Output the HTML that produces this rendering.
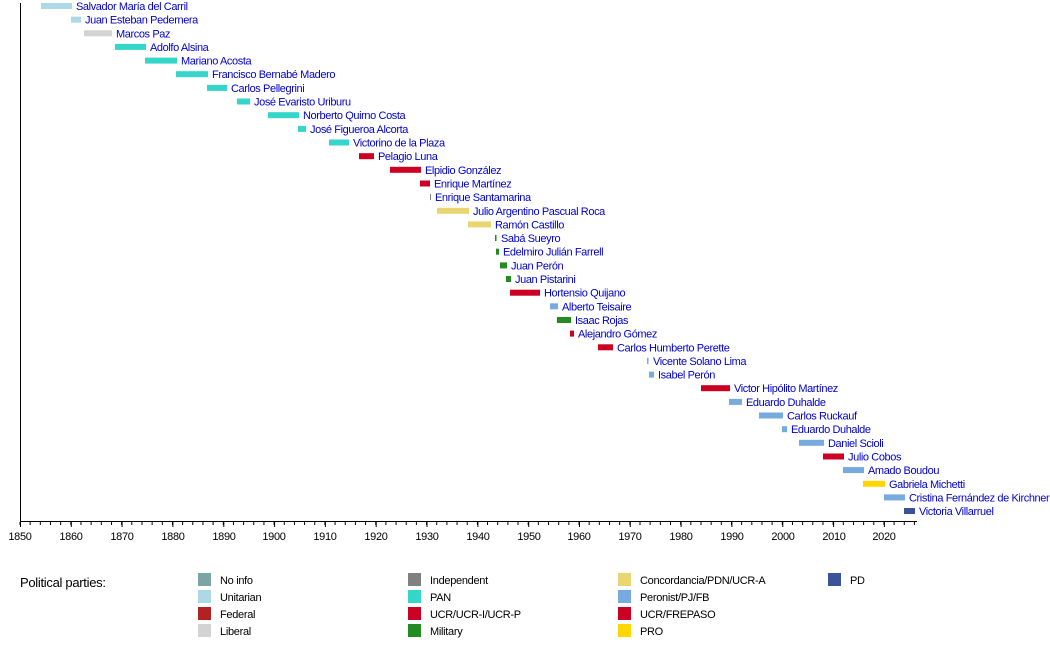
<!DOCTYPE html>
<html><head><meta charset="utf-8"><style>
html,body{margin:0;padding:0;background:#fff;width:1050px;height:671px;overflow:hidden}
svg{display:block;font-family:"Liberation Sans",sans-serif}
.n{font-size:11px;fill:#0000cc;letter-spacing:-0.4px}
.t{font-size:11px;fill:#000;text-anchor:middle;letter-spacing:-0.3px}
.l{font-size:11px;fill:#000;letter-spacing:-0.3px}
</style></head><body>
<svg width="1050" height="671" viewBox="0 0 1050 671">
<defs>
<pattern id="mt" x="19.5" y="0" width="10.164" height="10" patternUnits="userSpaceOnUse">
<rect x="0" y="0" width="1" height="10" fill="#000"/>
</pattern>
</defs>
<line x1="20.5" y1="3" x2="20.5" y2="522" stroke="#000" stroke-width="1"/>
<line x1="20" y1="521.5" x2="917" y2="521.5" stroke="#000" stroke-width="1"/>
<rect x="19.5" y="522" width="898" height="3" fill="url(#mt)"/>
<g stroke="#000" stroke-width="1">
<line x1="20.5" y1="522" x2="20.5" y2="527"/><line x1="71.3" y1="522" x2="71.3" y2="527"/><line x1="122.1" y1="522" x2="122.1" y2="527"/><line x1="172.9" y1="522" x2="172.9" y2="527"/><line x1="223.8" y1="522" x2="223.8" y2="527"/><line x1="274.6" y1="522" x2="274.6" y2="527"/><line x1="325.4" y1="522" x2="325.4" y2="527"/><line x1="376.2" y1="522" x2="376.2" y2="527"/><line x1="427" y1="522" x2="427" y2="527"/><line x1="477.9" y1="522" x2="477.9" y2="527"/><line x1="528.7" y1="522" x2="528.7" y2="527"/><line x1="579.5" y1="522" x2="579.5" y2="527"/><line x1="630.3" y1="522" x2="630.3" y2="527"/><line x1="681.1" y1="522" x2="681.1" y2="527"/><line x1="731.9" y1="522" x2="731.9" y2="527"/><line x1="782.8" y1="522" x2="782.8" y2="527"/><line x1="833.6" y1="522" x2="833.6" y2="527"/><line x1="884.4" y1="522" x2="884.4" y2="527"/>
</g>
<g class="t">
<text class="t" x="20" y="540">1850</text><text class="t" x="71" y="540">1860</text><text class="t" x="122" y="540">1870</text><text class="t" x="173" y="540">1880</text><text class="t" x="224" y="540">1890</text><text class="t" x="274" y="540">1900</text><text class="t" x="325" y="540">1910</text><text class="t" x="376" y="540">1920</text><text class="t" x="427" y="540">1930</text><text class="t" x="478" y="540">1940</text><text class="t" x="529" y="540">1950</text><text class="t" x="579" y="540">1960</text><text class="t" x="630" y="540">1970</text><text class="t" x="681" y="540">1980</text><text class="t" x="732" y="540">1990</text><text class="t" x="783" y="540">2000</text><text class="t" x="834" y="540">2010</text><text class="t" x="884" y="540">2020</text>
</g>
<rect x="41" y="3" width="31" height="6" fill="#add8e6"/><text class="n" x="76" y="10">Salvador María del Carril</text>
<rect x="71" y="16.6" width="10" height="6" fill="#add8e6"/><text class="n" x="85" y="23.6">Juan Esteban Pedernera</text>
<rect x="84" y="30.3" width="28" height="6" fill="#d3d3d3"/><text class="n" x="116" y="37.3">Marcos Paz</text>
<rect x="115" y="43.9" width="31" height="6" fill="#33d6c8"/><text class="n" x="150" y="50.9">Adolfo Alsina</text>
<rect x="145" y="57.6" width="32" height="6" fill="#33d6c8"/><text class="n" x="181" y="64.6">Mariano Acosta</text>
<rect x="176" y="71.2" width="32" height="6" fill="#33d6c8"/><text class="n" x="212" y="78.2">Francisco Bernabé Madero</text>
<rect x="207" y="84.9" width="20" height="6" fill="#33d6c8"/><text class="n" x="231" y="91.9">Carlos Pellegrini</text>
<rect x="237" y="98.5" width="13" height="6" fill="#33d6c8"/><text class="n" x="254" y="105.5">José Evaristo Uriburu</text>
<rect x="268" y="112.2" width="31" height="6" fill="#33d6c8"/><text class="n" x="303" y="119.2">Norberto Quirno Costa</text>
<rect x="298" y="125.9" width="8" height="6" fill="#33d6c8"/><text class="n" x="310" y="132.9">José Figueroa Alcorta</text>
<rect x="329" y="139.5" width="20" height="6" fill="#33d6c8"/><text class="n" x="353" y="146.5">Victorino de la Plaza</text>
<rect x="359" y="153.2" width="15" height="6" fill="#cc0022"/><text class="n" x="378" y="160.2">Pelagio Luna</text>
<rect x="390" y="166.8" width="31" height="6" fill="#cc0022"/><text class="n" x="425" y="173.8">Elpidio González</text>
<rect x="420" y="180.5" width="10" height="6" fill="#cc0022"/><text class="n" x="434" y="187.5">Enrique Martínez</text>
<rect x="430" y="194.1" width="1" height="6" fill="#808080"/><text class="n" x="435" y="201.1">Enrique Santamarina</text>
<rect x="437" y="207.8" width="32" height="6" fill="#e8d770"/><text class="n" x="473" y="214.8">Julio Argentino Pascual Roca</text>
<rect x="468" y="221.4" width="23" height="6" fill="#e8d770"/><text class="n" x="495" y="228.4">Ramón Castillo</text>
<rect x="495" y="235" width="1.5" height="6" fill="#228b22"/><text class="n" x="501" y="242">Sabá Sueyro</text>
<rect x="496" y="248.7" width="3" height="6" fill="#228b22"/><text class="n" x="503" y="255.7">Edelmiro Julián Farrell</text>
<rect x="500" y="262.4" width="7" height="6" fill="#228b22"/><text class="n" x="511" y="269.4">Juan Perón</text>
<rect x="506" y="276" width="5" height="6" fill="#228b22"/><text class="n" x="515" y="283">Juan Pistarini</text>
<rect x="510" y="289.7" width="30" height="6" fill="#cc0022"/><text class="n" x="544" y="296.7">Hortensio Quijano</text>
<rect x="550" y="303.3" width="8" height="6" fill="#77aadd"/><text class="n" x="562" y="310.3">Alberto Teisaire</text>
<rect x="557" y="317" width="14" height="6" fill="#228b22"/><text class="n" x="575" y="324">Isaac Rojas</text>
<rect x="570" y="330.6" width="4" height="6" fill="#cc0022"/><text class="n" x="578" y="337.6">Alejandro Gómez</text>
<rect x="598" y="344.3" width="15" height="6" fill="#cc0022"/><text class="n" x="617" y="351.3">Carlos Humberto Perette</text>
<rect x="647" y="357.9" width="1.5" height="6" fill="#77aadd"/><text class="n" x="653" y="364.9">Vicente Solano Lima</text>
<rect x="649" y="371.6" width="5" height="6" fill="#77aadd"/><text class="n" x="658" y="378.6">Isabel Perón</text>
<rect x="701" y="385.2" width="29" height="6" fill="#cc0022"/><text class="n" x="734" y="392.2">Victor Hipólito Martínez</text>
<rect x="729" y="398.9" width="13" height="6" fill="#77aadd"/><text class="n" x="746" y="405.9">Eduardo Duhalde</text>
<rect x="759" y="412.5" width="24" height="6" fill="#77aadd"/><text class="n" x="787" y="419.5">Carlos Ruckauf</text>
<rect x="782" y="426.2" width="5" height="6" fill="#77aadd"/><text class="n" x="791" y="433.2">Eduardo Duhalde</text>
<rect x="799" y="439.8" width="25" height="6" fill="#77aadd"/><text class="n" x="828" y="446.8">Daniel Scioli</text>
<rect x="823" y="453.5" width="21" height="6" fill="#cc0022"/><text class="n" x="848" y="460.5">Julio Cobos</text>
<rect x="843" y="467.1" width="21" height="6" fill="#77aadd"/><text class="n" x="868" y="474.1">Amado Boudou</text>
<rect x="863" y="480.8" width="22" height="6" fill="#ffd700"/><text class="n" x="889" y="487.8">Gabriela Michetti</text>
<rect x="884" y="494.4" width="21" height="6" fill="#77aadd"/><text class="n" x="909" y="501.4">Cristina Fernández de Kirchner</text>
<rect x="904" y="508" width="11" height="6" fill="#3a539b"/><text class="n" x="919" y="515">Victoria Villarruel</text>
<text x="20" y="587" style="font-size:13px;fill:#000;letter-spacing:-0.3px">Political parties:</text>
<rect x="198" y="573" width="13" height="13" fill="#7ba5a5"/><text class="l" x="220" y="584">No info</text>
<rect x="198" y="590" width="13" height="13" fill="#add8e6"/><text class="l" x="220" y="601">Unitarian</text>
<rect x="198" y="607" width="13" height="13" fill="#b22222"/><text class="l" x="220" y="618">Federal</text>
<rect x="198" y="624" width="13" height="13" fill="#d3d3d3"/><text class="l" x="220" y="635">Liberal</text>
<rect x="408" y="573" width="13" height="13" fill="#808080"/><text class="l" x="430" y="584">Independent</text>
<rect x="408" y="590" width="13" height="13" fill="#33d6c8"/><text class="l" x="430" y="601">PAN</text>
<rect x="408" y="607" width="13" height="13" fill="#cc0022"/><text class="l" x="430" y="618">UCR/UCR-I/UCR-P</text>
<rect x="408" y="624" width="13" height="13" fill="#228b22"/><text class="l" x="430" y="635">Military</text>
<rect x="618" y="573" width="13" height="13" fill="#e8d770"/><text class="l" x="640" y="584">Concordancia/PDN/UCR-A</text>
<rect x="618" y="590" width="13" height="13" fill="#77aadd"/><text class="l" x="640" y="601">Peronist/PJ/FB</text>
<rect x="618" y="607" width="13" height="13" fill="#cc0022"/><text class="l" x="640" y="618">UCR/FREPASO</text>
<rect x="618" y="624" width="13" height="13" fill="#ffd700"/><text class="l" x="640" y="635">PRO</text>
<rect x="828" y="573" width="13" height="13" fill="#3a539b"/><text class="l" x="850" y="584">PD</text>
</svg>
</body></html>
